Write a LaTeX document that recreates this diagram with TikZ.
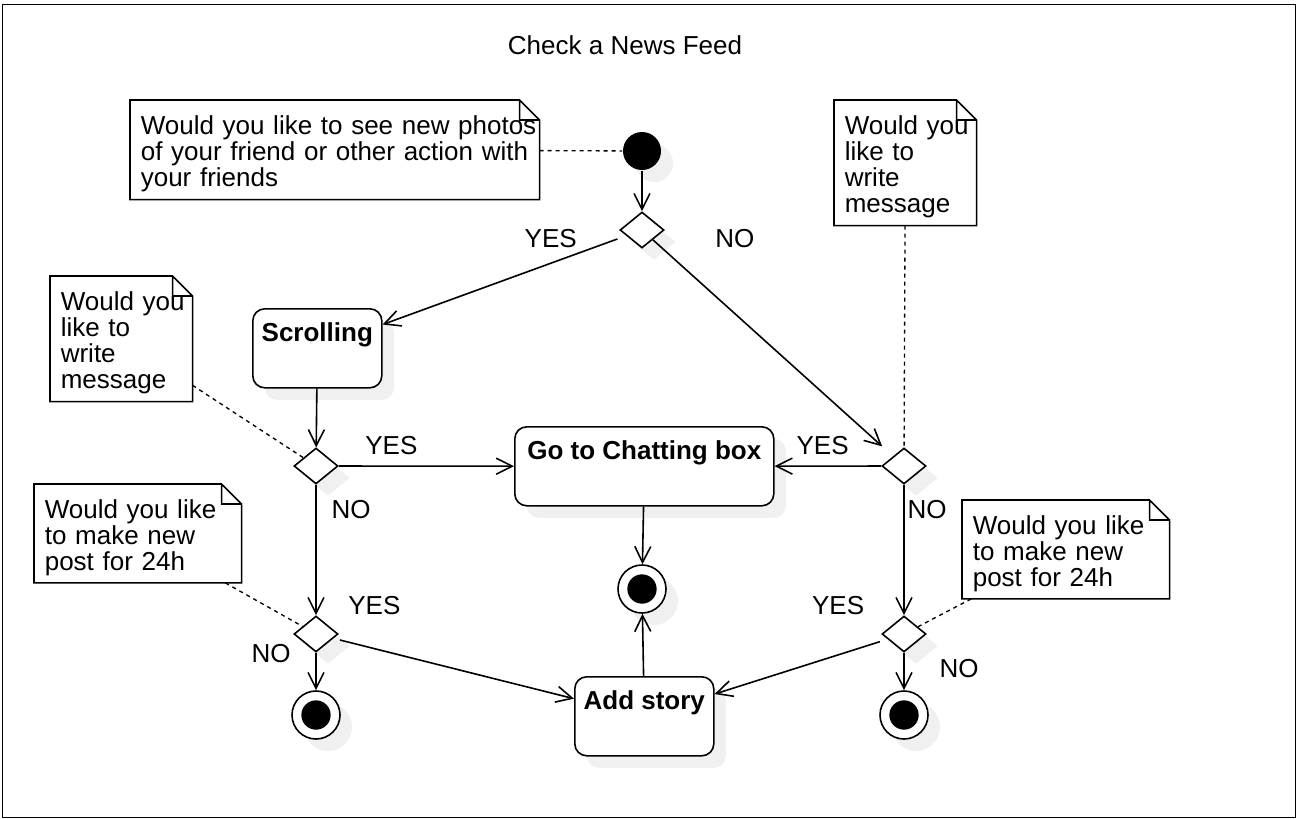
\documentclass[tikz,border=0pt]{standalone}
\usepackage{fontspec}
\setmainfont{Liberation Sans}
\usetikzlibrary{arrows.meta,shapes.geometric,shadows}
\newcommand{\feedfont}{\fontsize{19.5pt}{19.5pt}\selectfont}

\begin{document}
\begin{tikzpicture}[x=0.75pt, y=-0.75pt, line width=1.2pt, font=\feedfont,
		softshadow/.style={drop shadow={shadow xshift=9pt, shadow yshift=-9pt, fill=black!6, opacity=1}},
		initstate/.style={circle, fill=black, minimum size=28.5pt, inner sep=0pt, softshadow},
		finalstate/.style={circle, draw, fill=white, minimum size=36pt, inner sep=0pt, softshadow,
			path picture={\fill[black] (path picture bounding box.center) circle (11pt);}},
		choice/.style={diamond, draw, fill=white, minimum width=33pt, minimum height=27pt, inner sep=0pt, softshadow},
		activity/.style={rectangle, rounded corners=9pt, draw, fill=white, anchor=north west, inner xsep=2pt, inner ysep=0pt,
			text height=24.75pt, text depth=34.5pt, font=\feedfont\bfseries, softshadow},
		note/.style={align=left, anchor=north west, inner xsep=7.5pt, inner ysep=0pt,
			execute at begin node={\rule{0pt}{20pt}}},
		notelink/.style={line width=1pt, dash pattern=on 3pt off 3pt},
		lbl/.style={inner sep=0pt, anchor=center}]
				\useasboundingbox (0,0) rectangle (1296,818);
				\draw[line width=0.75pt] (2,4) rectangle (1295,817);
				\node (title) at (625,45) {Check a News Feed};
				
				% notes
				\node[note, text width=291pt, minimum height=73.5pt] (note_1) at (130,100) {\mbox{Would you like to see new photos}\\ \mbox{of your friend or other action with}\\ \mbox{your friends}};
				\node[note, text width=90.75pt, minimum height=93pt] (note_2) at (50,276) {\mbox{Would you}\\ like to\\ write\\ message};
				\node[note, text width=90.75pt, minimum height=93pt] (note_3) at (834,100) {\mbox{Would you}\\ like to\\ write\\ message};
				\node[note, text width=139.5pt, minimum height=73pt] (note_4) at (34,484) {\mbox{Would you like}\\ \mbox{to make new}\\ \mbox{post for 24h}};
				\node[note, text width=139.5pt, minimum height=73pt] (note_5) at (962,500) {\mbox{Would you like}\\ \mbox{to make new}\\ \mbox{post for 24h}};
				\foreach \n in {note_1,note_2,note_3,note_4,note_5}
					\draw (\n.north west) -- ([xshift=-15pt]\n.north east) -- ([yshift=-15pt]\n.north east) -- (\n.south east) -- (\n.south west) -- cycle
					([xshift=-15pt]\n.north east) |- ([yshift=-15pt]\n.north east);
				
				% states
				\node[initstate] (init) at (642,151) {};
				\node[choice] (c_1) at (642,230) {};
				\node[activity, minimum width=96.75pt] (scroll) at (252,308) {Scrolling};
				\node[choice] (c_2) at (316,466) {};
				\node[activity, minimum width=194.25pt] (chat) at (514,426) {Go to Chatting box};
				\node[choice] (c_3) at (904,466) {};
				\node[finalstate] (end_1) at (642,589) {};
				\node[choice] (c_4) at (316,634) {};
				\node[choice] (c_5) at (904,634) {};
				\node[activity, minimum width=104.25pt] (story) at (574,676) {Add story};
				\node[finalstate] (end_2) at (316,715) {};
				\node[finalstate] (end_3) at (904,715) {};
				
				\path[notelink]
				(note_1) edge (init)
				(note_2) edge (c_2)
				(note_3) edge (c_3)
				(note_4) edge (c_4)
				(note_5) edge (c_5)
				;
				
				\path[-{Straight Barb[length=12pt,width=12pt]}]
				(init) edge (c_1)
				(c_1) edge [shorten <=7pt] node[lbl, pos=0.31, shift={(0,-25)}] {YES} (scroll)
				(c_1) edge [shorten >=11pt] node[lbl, pos=0.1, shift={(58,-23)}] {NO} (c_3)
				(scroll) edge (c_2)
				(c_2) edge node[lbl, pos=0.3, shift={(0,-21)}] {YES} (chat)
				(c_3) edge node[lbl, pos=0.55, shift={(0,-21)}] {YES} (chat)
				(c_2) edge node[lbl, pos=0.19, shift={(35,0)}] {NO} (c_4)
				(c_3) edge node[lbl, pos=0.19, shift={(23,0)}] {NO} (c_5)
				(chat) edge (end_1)
				(story) edge (end_1)
				(c_4) edge [shorten <=5pt] node[lbl, pos=0.17, shift={(0,-43)}] {YES} (story)
				(c_5) edge [shorten <=6pt] node[lbl, pos=0.286, shift={(0,-49)}] {YES} (story)
				(c_4) edge node[lbl, pos=0, shift={(-45,1)}] {NO} (end_2)
				(c_5) edge node[lbl, pos=0.4, shift={(55,1)}] {NO} (end_3)
				;
			\end{tikzpicture}
\end{document}
